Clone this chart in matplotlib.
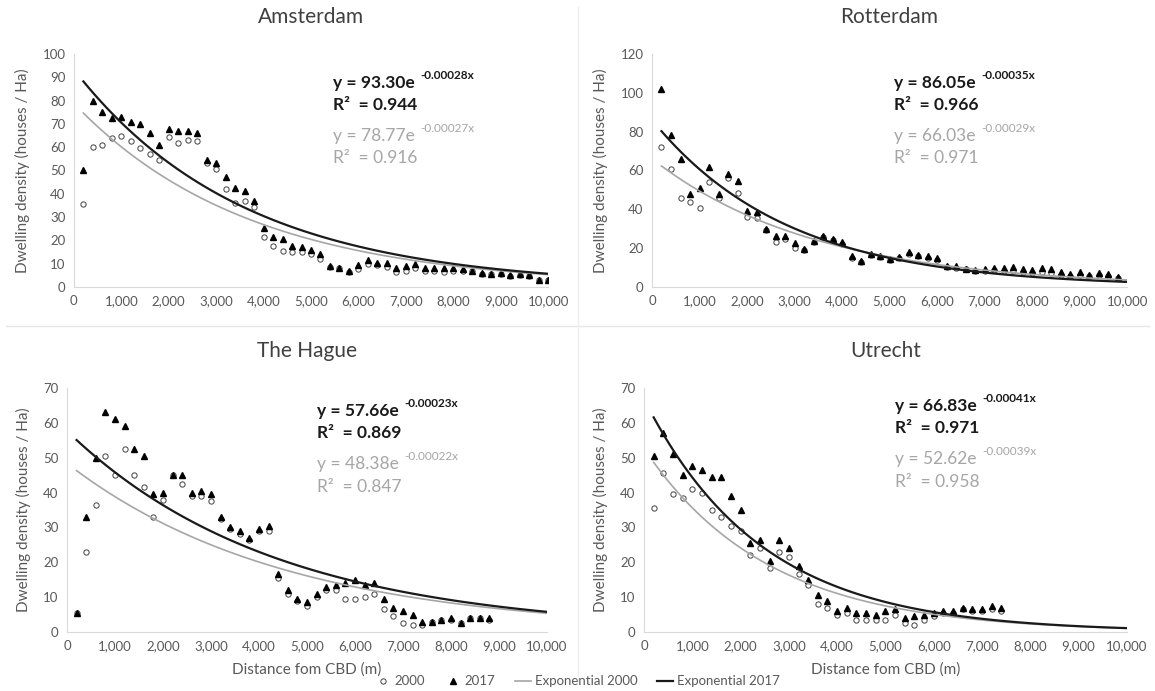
import numpy as np
import matplotlib.pyplot as plt
from matplotlib.lines import Line2D

plt.rcParams['font.family'] = ['Lato', 'DejaVu Sans']

# distance bands (m)
x_ams = np.arange(200, 10001, 200)
x_rot = np.arange(200, 9801, 200)
x_hag = np.arange(200, 8801, 200)
x_utr = np.arange(200, 7401, 200)

ams_2000 = [35.5, 60, 61, 64, 65, 62.5, 59.5, 57, 54.5, 64.5, 62, 63, 62.5, 53, 50.5, 42, 36, 37, 34.5,
            21.5, 17.5, 15.5, 15, 15, 14, 12, 8.5, 8, 6.5, 7.5, 10, 9.5, 8.5, 6.5, 7, 8, 7, 7, 6.5, 7,
            7, 7, 5.5, 5.5, 5.5, 4.5, 5, 4.5, 3, 3]
ams_2017 = [50, 80, 75, 72.5, 73, 71, 70, 66, 61, 68, 67, 67, 66, 54.5, 53, 47, 42.5, 41, 37,
            25.5, 21.5, 20.5, 17.5, 17, 16, 14, 9, 8, 7, 9.5, 11.5, 10.5, 10.5, 8, 9, 10, 8, 8, 8, 8,
            7.5, 7, 6, 5.5, 6, 5, 5.5, 5, 3, 3]

rot_2000 = [72, 61, 46, 44, 40.5, 54, 46, 56, 48.5, 36, 35.5, 29.5, 23, 24.5, 20, 19, 23, 25.5, 24, 22,
            15, 13, 16.5, 15.5, 14, 15, 17, 16, 15, 14, 10.5, 10, 9, 8, 8, 8.5, 8, 8, 7.5, 7,
            7.5, 7, 6, 5.5, 6, 5.5, 6, 5.5, 4.5]
rot_2017 = [102, 78.5, 66, 48, 51, 62, 48, 58, 54.5, 39, 38.5, 30, 26.5, 26.5, 22.5, 19.5, 23.5, 26.5, 24.5, 23,
            16, 13.5, 17, 16, 14.5, 15.5, 18, 16.5, 16, 15, 11, 11, 9.5, 8.5, 9.5, 10, 10, 10.5, 9, 8.5,
            10, 9, 7.5, 6.5, 7.5, 6, 7, 6.5, 5]

hag_2000 = [5.5, 23, 36.5, 50.5, 45, 52.5, 45, 41.5, 33, 38, 45, 42.5, 39, 39, 37.5, 32.5, 29.5, 28, 26.5, 29,
            29, 15.5, 11, 9, 7.5, 10, 12, 12, 9.5, 9.5, 10, 11, 6.5, 4.5, 2.5, 2, 2, 3, 3.5, 3.5,
            2.5, 4, 4, 3.5]
hag_2017 = [5.5, 33, 50, 63, 61, 59, 52.5, 50.5, 39.5, 40, 45, 45, 40, 40.5, 39.5, 33, 30, 29, 27, 29.5,
            30.5, 16.5, 12, 9.5, 8.5, 11, 13, 13.5, 14, 15, 13.5, 14, 9.5, 7, 6, 5, 3, 3, 3.5, 4,
            2.5, 4, 4, 4]

utr_2000 = [35.5, 45.5, 39.5, 38.5, 41, 40, 35, 33, 30.5, 29, 22, 24, 18.5, 23, 21.5, 16.5, 13.5, 8, 7,
            5, 5.5, 3.5, 3.5, 3.5, 3.5, 5, 2.5, 2, 3.5, 4.5, 5.5, 5.5, 6.5, 6, 6, 6.5, 6]
utr_2017 = [50.5, 57, 51, 45, 47.5, 46.5, 44.5, 44.5, 39, 35, 25.5, 26.5, 20.5, 26.5, 24, 19, 15, 10.5, 9,
            6, 7, 5.5, 5.5, 5, 6, 6.5, 4, 4.5, 5, 5.5, 6, 6, 7, 6.5, 6.5, 7.5, 7]

# fitted exponential trends shown on the chart: a * exp(b * x), R^2
fit_2017 = {'Amsterdam': (93.30, -0.00028, 0.944), 'Rotterdam': (86.05, -0.00035, 0.966),
            'The Hague': (57.66, -0.00023, 0.869), 'Utrecht': (66.83, -0.00041, 0.971)}
fit_2000 = {'Amsterdam': (78.77, -0.00027, 0.916), 'Rotterdam': (66.03, -0.00029, 0.971),
            'The Hague': (48.38, -0.00022, 0.847), 'Utrecht': (52.62, -0.00039, 0.958)}

panels = [
    ('Amsterdam', x_ams, ams_2000, ams_2017, 100, 10, [0.064, 0.5847, 0.4105, 0.3372], 0.546, [0.855, 0.76, 0.625, 0.53], False),
    ('Rotterdam', x_rot, rot_2000, rot_2017, 120, 20, [0.5645, 0.5847, 0.4113, 0.3372], 0.51, [0.855, 0.76, 0.625, 0.53], False),
    ('The Hague', x_hag, hag_2000, hag_2017, 70, 10, [0.058, 0.0854, 0.4156, 0.3531], 0.52, [0.885, 0.795, 0.67, 0.575], True),
    ('Utrecht', x_utr, utr_2000, utr_2017, 70, 10, [0.5576, 0.0854, 0.418, 0.3531], 0.52, [0.905, 0.815, 0.69, 0.595], True),
]

GRAY_LINE = '#a6a6a6'
TXT = '#595959'

fig = plt.figure(figsize=(11.55, 6.91), dpi=100)

for name, xs, y00, y17, ymax, ystep, rect, ex, eys, xlab in panels:
    ax = fig.add_axes(rect)
    ax.plot(xs, y00, 'o', ms=3.8, mfc='white', mec='#404040', mew=0.7, zorder=3)
    ax.plot(xs, y17, '^', ms=5, color='black', zorder=3)
    xt = np.arange(200, 10001, 100)
    a0, b0, r0 = fit_2000[name]
    a1, b1, r1 = fit_2017[name]
    ax.plot(xt, a0 * np.exp(b0 * xt), color=GRAY_LINE, lw=1.2, zorder=4)
    ax.plot(xt, a1 * np.exp(b1 * xt), color='#1a1a1a', lw=1.6, zorder=4)

    ax.set_xlim(0, 10000)
    ax.set_ylim(0, ymax)
    ax.set_xticks(np.arange(0, 10001, 1000))
    ax.set_xticklabels([f'{v:,}' for v in range(0, 10001, 1000)])
    ax.set_yticks(np.arange(0, ymax + 1, ystep))
    ax.tick_params(length=0, labelsize=9.5, colors=TXT, pad=6)
    for s in ['top', 'right']:
        ax.spines[s].set_visible(False)
    for s in ['left', 'bottom']:
        ax.spines[s].set_color('#d9d9d9')
        ax.spines[s].set_linewidth(0.8)
    ax.set_title(name, fontsize=15, color='#404040', pad=22)
    ax.set_ylabel('Dwelling density (houses / Ha)', fontsize=11, color=TXT, labelpad=9)
    if xlab:
        ax.set_xlabel('Distance fom CBD (m)', fontsize=11, color=TXT, labelpad=7)

    # equations
    for (a, b, r), col, wt, (ye, yr) in [((a1, b1, r1), '#1a1a1a', 'bold', eys[:2]),
                                         ((a0, b0, r0), '#a6a6a6', 'normal', eys[2:])]:
        t = ax.text(ex, ye, f'y = {a:.2f}e', transform=ax.transAxes, fontsize=12.5,
                    color=col, weight=wt, va='baseline')
        ax.annotate(f'{b:.5f}x', xy=(1, 0.62), xycoords=t, fontsize=8.5,
                    color=col, weight=wt, va='bottom', xytext=(4, 0), textcoords='offset points')
        ax.text(ex, yr, f'R\u00b2  = {r:.3f}', transform=ax.transAxes, fontsize=12.5,
                color=col, weight=wt, va='baseline')

# separators between panels
fig.add_artist(Line2D([0.005, 0.995], [0.528, 0.528], color='#e6e6e6', lw=1))
fig.add_artist(Line2D([0.5005, 0.5005], [0.015, 0.99], color='#eeeeee', lw=1))

handles = [
    Line2D([], [], ls='none', marker='o', ms=3.8, mfc='white', mec='#404040', mew=0.7),
    Line2D([], [], ls='none', marker='^', ms=5, color='black'),
    Line2D([], [], color=GRAY_LINE, lw=1.2),
    Line2D([], [], color='#1a1a1a', lw=1.6),
]
fig.legend(handles, ['2000', '2017', 'Exponential 2000', 'Exponential 2017'], loc='lower center',
           bbox_to_anchor=(0.5, -0.012), ncol=4, frameon=False, fontsize=9.5, handlelength=1.2,
           handletextpad=0.3, columnspacing=1.5, labelcolor=TXT)

fig.savefig('out.png', dpi=100, facecolor='white')
